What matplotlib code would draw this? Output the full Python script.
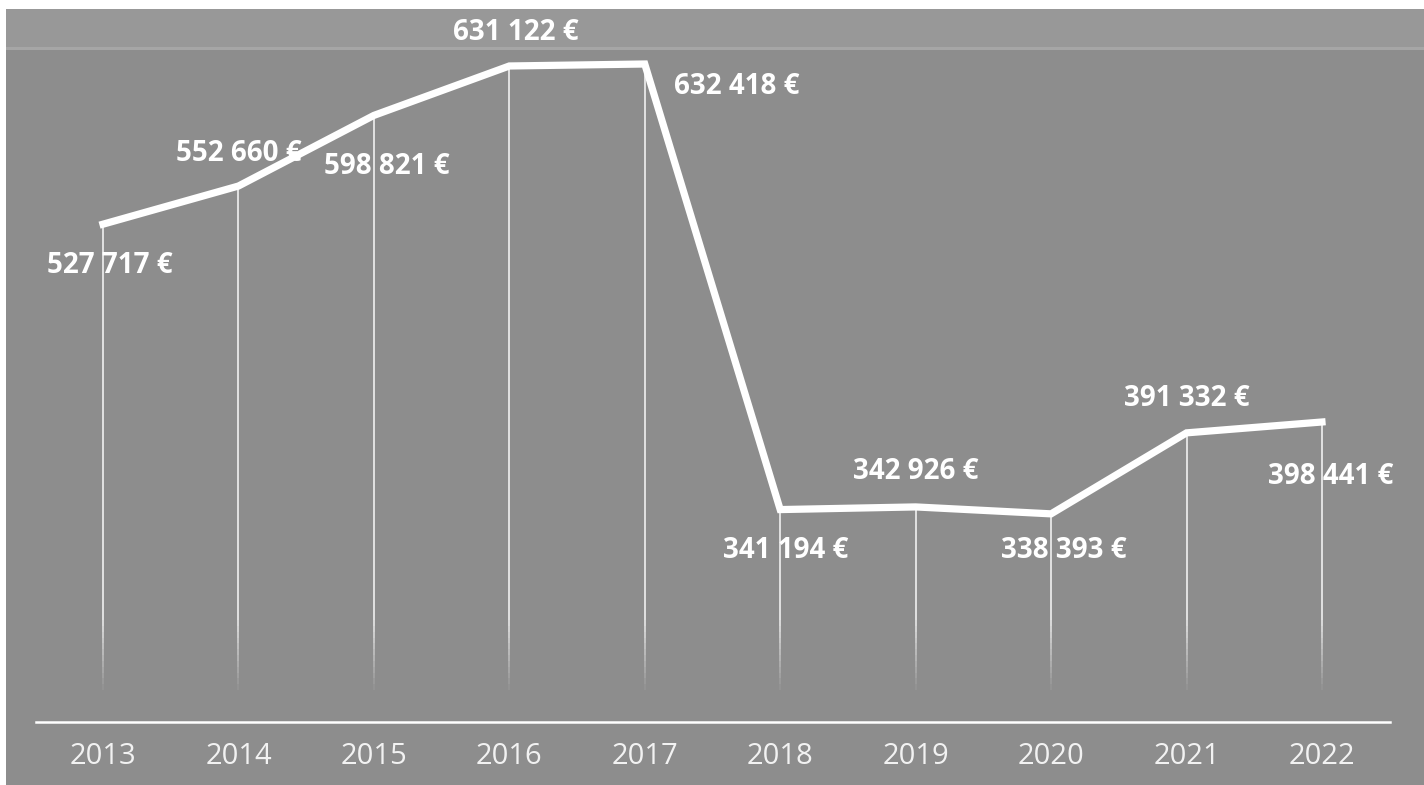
import matplotlib
matplotlib.use("Agg")
import matplotlib.pyplot as plt
from matplotlib.patches import Rectangle
import numpy as np

years = ["2013", "2014", "2015", "2016", "2017", "2018", "2019", "2020", "2021", "2022"]
values = [527717, 552660, 598821, 631122, 632418, 341194, 342926, 338393, 391332, 398441]
labels = ["527 717 €", "552 660 €", "598 821 €", "631 122 €", "632 418 €",
          "341 194 €", "342 926 €", "338 393 €", "391 332 €", "398 441 €"]

# label offsets in pixels (layout only)
offsets = [(7, -41), (0, 33), (13, -51), (6, 33), (92, -22),
           (5, -41), (0, 35), (13, -37), (0, 34), (9, -55)]

W, H = 1424, 785
fig = plt.figure(figsize=(W / 100, H / 100), dpi=100, facecolor="white")

# scanned grey background
fig.patches.append(Rectangle((6 / W, 0), 1 - 6 / W, 1 - 9 / H, transform=fig.transFigure,
                             facecolor="#8d8d8d", edgecolor="none", zorder=0))
fig.patches.append(Rectangle((6 / W, 1 - 50 / H), 1 - 6 / W, 41 / H, transform=fig.transFigure,
                             facecolor="#989898", edgecolor="none", zorder=0))
fig.patches.append(Rectangle((6 / W, 1 - 50 / H), 1 - 6 / W, 3 / H, transform=fig.transFigure,
                             facecolor="#a6a6a6", edgecolor="none", zorder=0))

ax = fig.add_axes([0, 0, 1, 1])
ax.set_zorder(5)
ax.patch.set_visible(False)
for s in ax.spines.values():
    s.set_visible(False)
ax.set_xticks([])
ax.set_yticks([])

# pixel -> data mapping
px_per_cat = 135.44
x0 = 103
ax.set_xlim(-x0 / px_per_cat, (W - x0) / px_per_cat)
b = 0.00153
a = 1031.6
ax.set_ylim((a - H) / b, a / b)

x = np.arange(len(values))

# drop lines with fade at bottom
base = (a - 690) / b
fade_top = (a - 620) / b
for xi, v in zip(x, values):
    ax.plot([xi, xi], [v, fade_top], color="#f0f0f0", lw=1.2, zorder=2, solid_capstyle="butt")
    n = 12
    ys = np.linspace(fade_top, base, n + 1)
    for k in range(n):
        ax.plot([xi, xi], [ys[k], ys[k + 1]], color="#f0f0f0", lw=1.2,
                alpha=1 - (k + 1) / (n + 1), zorder=2, solid_capstyle="butt")

ax.plot(x, values, color="white", lw=5.2, zorder=3, solid_joinstyle="miter",
        solid_capstyle="projecting")

# baseline
yb = (a - 722) / b
ax.plot([-0.495, 9.50], [yb, yb], color="white", lw=1.8, zorder=2)

# value labels
for xi, v, lab, (dx, dy) in zip(x, values, labels, offsets):
    ax.annotate(lab, (xi, v), xytext=(dx, dy), textcoords="offset pixels",
                ha="center", va="center", color="white", fontsize=20,
                fontweight="bold", family="Open Sans", zorder=4)

# year labels
yl = (a - 756) / b
for xi, yr in zip(x, years):
    ax.text(xi, yl, yr, ha="center", va="center", color="#f2f2f2",
            fontsize=21, family="Open Sans", zorder=4)

fig.savefig("out.png", dpi=100, facecolor="white")
